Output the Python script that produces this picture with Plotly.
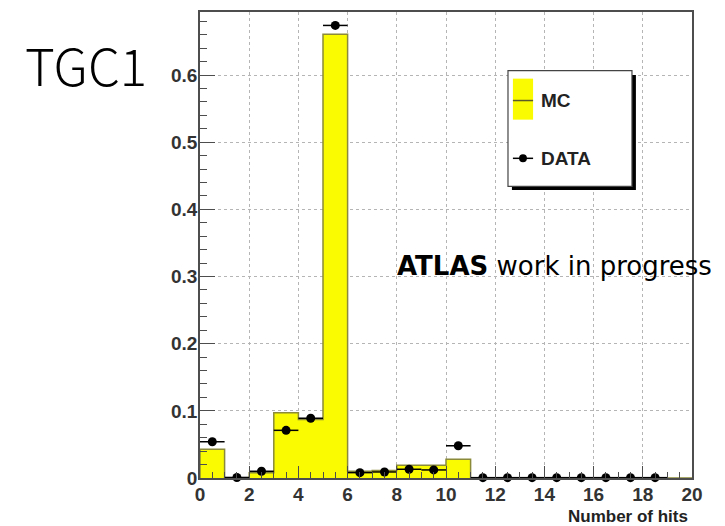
import plotly.graph_objects as go

# Hit-multiplicity histogram for TGC1: MC (filled histogram) vs DATA (points)
bin_edges = list(range(0, 21))
bin_centers = [e + 0.5 for e in bin_edges[:-1]]

mc_values = [0.043, 0.0, 0.008, 0.097, 0.087, 0.661, 0.010, 0.011, 0.019, 0.019,
             0.028, 0.0, 0.0, 0.0, 0.0, 0.0, 0.0, 0.0, 0.0, 0.0]

data_centers = bin_centers[:19]
data_values = [0.054, 0.0008, 0.010, 0.071, 0.089, 0.674, 0.008, 0.009, 0.013, 0.012,
               0.048, 0.0005, 0.0005, 0.0005, 0.0005, 0.0005, 0.0005, 0.0005, 0.0005]

x_ticks = [0, 2, 4, 6, 8, 10, 12, 14, 16, 18, 20]
y_ticks = [0, 0.1, 0.2, 0.3, 0.4, 0.5, 0.6]
y_tick_text = ["0", "0.1", "0.2", "0.3", "0.4", "0.5", "0.6"]

YELLOW = "#fafa00"
OUTLINE = "#8a8a3a"
FRAME = "#4d4d4d"
ROOT_FONT = "Liberation Sans"
TITLE_FONT = "Noto Sans CJK JP"
NOTE_FONT = "DejaVu Sans"

# step outline of the MC histogram (bin edges with heights)
step_x = [bin_edges[0]] + bin_edges[:-1] + [bin_edges[-1]]
step_y = [0.0] + mc_values + [0.0]

fig = go.Figure()
fig.add_trace(go.Scatter(
    x=step_x, y=step_y, mode="lines", line=dict(shape="hv", color=OUTLINE, width=1.5),
    fill="tozeroy", fillcolor=YELLOW, name="MC", showlegend=False, hoverinfo="skip",
))
fig.add_trace(go.Scatter(
    x=data_centers, y=data_values, mode="markers",
    marker=dict(color="black", size=9),
    error_x=dict(type="constant", value=0.5, color="black", thickness=1.5, width=0),
    name="DATA", showlegend=False, cliponaxis=False,
))

fig.update_layout(
    width=725, height=526,
    margin=dict(l=200, r=33, t=10, b=48),
    paper_bgcolor="white", plot_bgcolor="white",
    font=dict(family=ROOT_FONT, color="#333333"),
)
fig.update_xaxes(
    range=[0, 20], tickvals=x_ticks, ticktext=[str(v) for v in x_ticks],
    ticks="inside", ticklen=12, tickwidth=1.3, tickcolor=FRAME,
    tickfont=dict(family=ROOT_FONT, size=19, color="#333333", weight="bold"),
    ticklabelstandoff=-2,
    showline=True, linecolor=FRAME, linewidth=1.5, mirror=True,
    showgrid=True, gridcolor="#b5b5b5", griddash="dot", gridwidth=1,
    zeroline=False,
    minor=dict(dtick=0.5, ticks="inside", ticklen=6, tickcolor=FRAME, tickwidth=1.2, showgrid=False),
)
fig.update_yaxes(
    range=[0, 0.694], tickvals=y_ticks, ticktext=y_tick_text,
    ticks="inside", ticklen=15, tickwidth=1.3, tickcolor=FRAME,
    tickfont=dict(family=ROOT_FONT, size=19, color="#333333", weight="bold"),
    ticklabelstandoff=-3,
    showline=True, linecolor=FRAME, linewidth=1.5, mirror=True,
    showgrid=True, gridcolor="#b5b5b5", griddash="dot", gridwidth=1,
    zeroline=False,
    minor=dict(dtick=0.02, ticks="inside", ticklen=7, tickcolor=FRAME, tickwidth=1.2, showgrid=False),
)

# legend box with drop shadow, drawn in paper coordinates
shapes = [
    dict(type="rect", xref="paper", yref="paper", x0=0.634, x1=0.886, y0=0.618, y1=0.865,
         fillcolor="black", line=dict(width=0), layer="above"),
    dict(type="rect", xref="paper", yref="paper", x0=0.626, x1=0.878, y0=0.626, y1=0.874,
         fillcolor="white", line=dict(color="#444444", width=1.2), layer="above"),
    dict(type="rect", xref="paper", yref="paper", x0=0.636, x1=0.677, y0=0.769, y1=0.857,
         fillcolor=YELLOW, line=dict(width=0), layer="above"),
    dict(type="line", xref="paper", yref="paper", x0=0.636, x1=0.677, y0=0.810, y1=0.810,
         line=dict(color="#5a5a2a", width=1.5), layer="above"),
    dict(type="line", xref="paper", yref="paper", x0=0.636, x1=0.677, y0=0.686, y1=0.686,
         line=dict(color="black", width=1.5), layer="above"),
    dict(type="circle", xref="paper", yref="paper", x0=0.6485, x1=0.6645, y0=0.6775, y1=0.6945,
         fillcolor="black", line=dict(width=0), layer="above"),
]
fig.update_layout(shapes=shapes)

annotations = [
    dict(text="<b>MC</b>", xref="paper", yref="paper", x=0.689, y=0.810,
         xanchor="left", yanchor="middle", showarrow=False,
         font=dict(family=ROOT_FONT, size=19, color="#222222")),
    dict(text="<b>DATA</b>", xref="paper", yref="paper", x=0.689, y=0.686,
         xanchor="left", yanchor="middle", showarrow=False,
         font=dict(family=ROOT_FONT, size=19, color="#222222")),
    dict(text="<b>Number of hits</b>", xref="paper", yref="paper", x=0.995, y=-0.083,
         xanchor="right", yanchor="middle", showarrow=False,
         font=dict(family=ROOT_FONT, size=17, color="#222222")),
    dict(text="<b>ATLAS</b> work in progress", xref="paper", yref="paper", x=0.396, y=0.455,
         xanchor="left", yanchor="middle", showarrow=False,
         font=dict(family=NOTE_FONT, size=26, color="black")),
    dict(text="TGC1", xref="paper", yref="paper", x=-0.36, y=0.888,
         xanchor="left", yanchor="middle", showarrow=False,
         font=dict(family=TITLE_FONT, size=51, color="black", weight=300)),
]
fig.update_layout(annotations=annotations)

fig.write_html("out.html")
